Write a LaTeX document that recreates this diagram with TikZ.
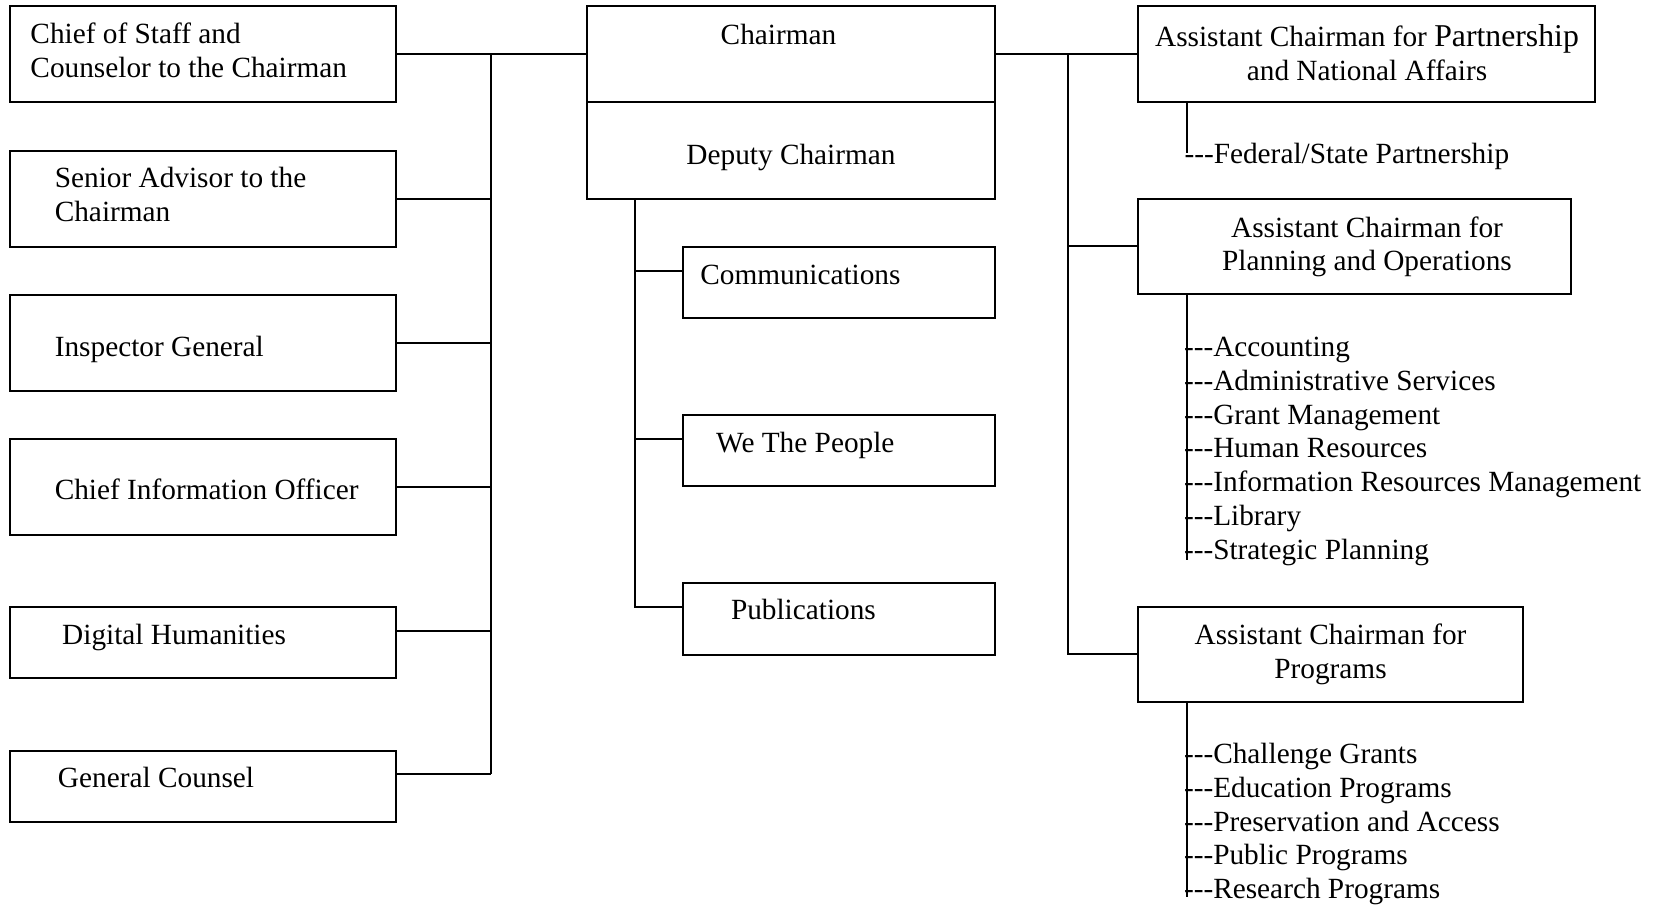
\documentclass[tikz,border=0pt]{standalone}
\usepackage{fontspec}
\setmainfont{Liberation Serif}[Ligatures=TeXOff]
\begin{document}
\begin{tikzpicture}[x=0.4pt,y=-0.4pt,
  font=\fontsize{11.72pt}{13.5pt}\selectfont,
  line width=0.8pt,
  box/.style={draw, line width=0.8pt, inner sep=0pt, minimum width=#1},
  tall/.style={minimum height=38.4pt},
  short/.style={minimum height=28.6pt},
  lbl/.style={inner sep=0pt, anchor=base west},
  clbl/.style={inner sep=0pt, anchor=base}]
\useasboundingbox (0,0) rectangle (1654,906);

% left column boxes
\node[box=154pt, tall] (cos) at (203,54.4) {};
\node[box=154pt, tall] (sa)  at (203,198.8) {};
\node[box=154pt, tall] (ig)  at (203,342.9) {};
\node[box=154pt, tall] (cio) at (203,486.8) {};
\node[box=154pt, short] (dh) at (203,642.5) {};
\node[box=154pt, short] (gc) at (203,786.7) {};

% centre column
\node[box=163.4pt, tall] (chair)  at (790.75,54.5) {};
\node[box=163.4pt, tall] (deputy) at (790.75,150.5) {};
\node[box=124.9pt, short] (comm) at (838.85,282.3) {};
\node[box=124.9pt, short] (wtp)  at (838.85,450.3) {};
\node[box=124.9pt, short] (pub)  at (838.85,618.9) {};

% right column
\node[box=182.6pt, tall] (acpna) at (1366.7,54.4) {};
\node[box=173pt, minimum height=38.1pt] (acpo) at (1354.7,246.2) {};
\node[box=153.8pt, minimum height=38pt] (acp) at (1330.7,654.1) {};

% texts
\node[lbl] (t-cos) at (29.5,43.5) {\begin{tabular}[t]{@{}l@{}}Chief of Staff and\\Counselor to the Chairman\end{tabular}};
\node[lbl] (t-sa) at (53.8,187.5) {\begin{tabular}[t]{@{}l@{}}Senior Advisor to the\\Chairman\end{tabular}};
\node[lbl] (t-ig) at (53.8,356) {Inspector General};
\node[lbl] (t-cio) at (53.8,499.4) {Chief Information Officer};
\node[lbl] (t-dh) at (61.2,644) {Digital Humanities};
\node[lbl] (t-gc) at (57,787) {General Counsel};

\node[clbl] (t-chair) at (778.5,44.5) {Chairman};
\node[clbl] (t-deputy) at (791,164.5) {Deputy Chairman};
\node[lbl] (t-comm) at (699.3,284.5) {Communications};
\node[lbl] (t-wtp) at (715.2,452) {We The People};
\node[lbl] (t-pub) at (730,619.7) {Publications};

\node[clbl] (t-acpna) at (1367,46.5) {\begin{tabular}[t]{@{}c@{}}Assistant Chairman for {\fontsize{12.7pt}{13.5pt}\selectfont Partnership}\\and National Affairs\end{tabular}};
\node[lbl] (t-fsp) at (1183.5,163.5) {---Federal/State Partnership};
\node[clbl] (t-acpo) at (1367,237) {\begin{tabular}[t]{@{}c@{}}Assistant Chairman for\\Planning and Operations\end{tabular}};
\node[lbl] (t-acpol) at (1183,356.5) {\begin{tabular}[t]{@{}l@{}}---Accounting\\---Administrative Services\\---Grant Management\\---Human Resources\\---Information Resources Management\\---Library\\---Strategic Planning\end{tabular}};
\node[clbl] (t-acp) at (1330.5,644.5) {\begin{tabular}[t]{@{}c@{}}Assistant Chairman for\\Programs\end{tabular}};
\node[lbl] (t-acpl) at (1183,763.5) {\begin{tabular}[t]{@{}l@{}}---Challenge Grants\\---Education Programs\\---Preservation and Access\\---Public Programs\\---Research Programs\end{tabular}};

% bus coordinates
\coordinate (lbtop) at (490.5,54.4);
\coordinate (dhc) at (490.5,630.7);
\coordinate (lbbot) at (490.5,774.3);
\coordinate (cb1) at (635,271);
\coordinate (cb2) at (635,438.8);
\coordinate (cb3) at (635,606.7);
\coordinate (rbtop) at (1067.5,54.4);
\coordinate (fspend) at (1187,153);
\coordinate (acpoend) at (1187,560);
\coordinate (acpend) at (1187,897);

% left connectors
\draw (cos.east) -- (chair.west |- cos.east);
\draw (lbtop) -- (lbbot);
\draw (sa.east) -- (sa.east -| lbtop);
\draw (ig.east) -- (ig.east -| lbtop);
\draw (cio.east) -- (cio.east -| lbtop);
\draw (dh.east |- dhc) -- (dhc);
\draw (gc.east |- lbbot) -- (lbbot);

% centre connectors
\draw (deputy.south -| cb3) -- (cb3) -- (pub.west |- cb3);
\draw (cb1) -- (comm.west |- cb1);
\draw (cb2) -- (wtp.west |- cb2);

% right connectors
\draw (chair.east) -- (acpna.west |- chair.east);
\draw (rbtop) |- (acp.west);
\draw (acpo.west) -- (acpo.west -| rbtop);
\draw (acpna.south -| fspend) -- (fspend);
\draw (acpo.south -| acpoend) -- (acpoend);
\draw (acp.south -| acpend) -- (acpend);
\end{tikzpicture}
\end{document}
